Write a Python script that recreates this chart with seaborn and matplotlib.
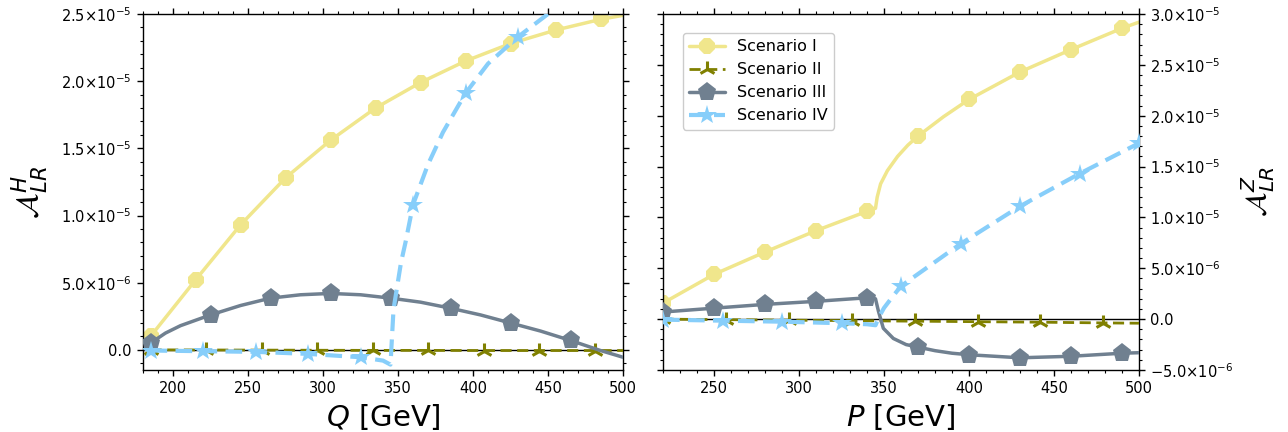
import numpy as np
import pandas as pd
import matplotlib
matplotlib.use("Agg")
import matplotlib.pyplot as plt
from matplotlib.ticker import MultipleLocator, FuncFormatter
import seaborn as sns

# ---------------- data ----------------
labels = ["Scenario I", "Scenario II", "Scenario III", "Scenario IV"]

# Left panel: A^H_LR vs Q [GeV]
Q_I = [185, 215, 245, 275, 305, 335, 365, 395, 425, 455, 485, 500]
AH_I = [1.0e-6, 5.2e-6, 9.3e-6, 1.28e-5, 1.56e-5, 1.80e-5, 1.99e-5, 2.15e-5,
        2.28e-5, 2.38e-5, 2.46e-5, 2.49e-5]
Q_I_mk = [185, 215, 245, 275, 305, 335, 365, 395, 425, 455, 485]

Q_II = [185, 222, 259, 296, 333, 370, 407, 444, 481, 500]
AH_II = [0.0, -0.01e-6, -0.02e-6, -0.03e-6, -0.04e-6, -0.04e-6, -0.05e-6,
         -0.05e-6, -0.05e-6, -0.05e-6]
Q_II_mk = [185, 222, 259, 296, 333, 370, 407, 444, 481]

Q_III = [185, 195, 205, 225, 245, 265, 285, 305, 325, 345, 365, 385, 405,
         425, 445, 465, 485, 500]
AH_III = [0.5e-6, 1.25e-6, 1.8e-6, 2.6e-6, 3.3e-6, 3.85e-6, 4.1e-6, 4.2e-6,
          4.1e-6, 3.85e-6, 3.55e-6, 3.1e-6, 2.6e-6, 2.0e-6, 1.4e-6, 0.7e-6,
          -0.05e-6, -0.55e-6]
Q_III_mk = [185, 225, 265, 305, 345, 385, 425, 465]

Q_IV = [185, 220, 255, 290, 325, 340, 345, 347, 352, 355, 360, 370, 380,
        395, 410, 430, 450, 465]
AH_IV = [-0.05e-6, -0.1e-6, -0.15e-6, -0.3e-6, -0.55e-6, -0.8e-6, -1.1e-6,
         3.0e-6, 6.5e-6, 8.0e-6, 1.08e-5, 1.38e-5, 1.62e-5, 1.91e-5, 2.13e-5,
         2.33e-5, 2.5e-5, 2.62e-5]
Q_IV_mk = [185, 220, 255, 290, 325, 360, 395, 430, 465]

# Right panel: A^Z_LR vs P [GeV]
P_I = [220, 250, 280, 310, 340, 345, 346, 348, 352, 358, 364, 370, 385, 400,
       430, 460, 490, 500]
AZ_I = [1.58e-6, 4.4e-6, 6.6e-6, 8.7e-6, 1.06e-5, 1.09e-5, 1.2e-5, 1.33e-5,
        1.46e-5, 1.6e-5, 1.71e-5, 1.80e-5, 1.99e-5, 2.16e-5, 2.43e-5, 2.65e-5,
        2.86e-5, 2.92e-5]
P_I_mk = [220, 250, 280, 310, 340, 370, 400, 430, 460, 490]

P_II = [220, 257, 294, 331, 368, 405, 442, 479, 500]
AZ_II = [0.0, -0.05e-6, -0.1e-6, -0.15e-6, -0.2e-6, -0.25e-6, -0.3e-6,
         -0.37e-6, -0.4e-6]
P_II_mk = [220, 257, 294, 331, 368, 405, 442, 479]

P_III = [220, 250, 280, 310, 340, 345, 346.7, 349.6, 355.5, 363, 370, 380,
         390, 400, 430, 460, 490, 500]
AZ_III = [0.7e-6, 1.08e-6, 1.45e-6, 1.75e-6, 2.1e-6, 2.0e-6, 0.8e-6, -0.9e-6,
          -1.9e-6, -2.5e-6, -2.75e-6, -3.1e-6, -3.35e-6, -3.5e-6, -3.8e-6,
          -3.65e-6, -3.35e-6, -3.3e-6]
P_III_mk = [220, 250, 280, 310, 340, 370, 400, 430, 460, 490]

P_IV = [220, 255, 290, 325, 340, 345, 347, 350, 355, 360, 395, 430, 465, 500]
AZ_IV = [-0.05e-6, -0.15e-6, -0.25e-6, -0.4e-6, -0.5e-6, -0.6e-6, 0.2e-6,
         1.1e-6, 2.2e-6, 3.25e-6, 7.4e-6, 1.11e-5, 1.43e-5, 1.73e-5]
P_IV_mk = [220, 255, 290, 325, 360, 395, 430, 465, 500]

# ---------------- styles ----------------
colors = ["#F0E68C", "#808000", "#708090", "#87CEFA"]
markers = ["8", "2", "p", "*"]
msizes = [13, 12, 14, 15]
lws = [2.5, 2.0, 2.5, 3.0]
dashes = [None, (4, 2), None, (4, 2)]

sns.set_style("ticks")
plt.rcParams["font.family"] = ["DejaVu Sans"]
plt.rcParams["mathtext.fontset"] = "dejavusans"
for k in ("text.color", "axes.labelcolor", "xtick.color", "ytick.color",
          "axes.edgecolor"):
    plt.rcParams[k] = "black"

fig = plt.figure(figsize=(12.88, 4.32), dpi=100)
axL = fig.add_axes([143 / 1288, 62 / 432, 480 / 1288, 356 / 432])
axR = fig.add_axes([663 / 1288, 62 / 432, 476 / 1288, 356 / 432])


def sci_fmt(v, pos):
    if abs(v) < 1e-12:
        return "0.0"
    e = int(np.floor(np.log10(abs(v)) + 1e-9))
    m = v / 10 ** e
    return r"$%.1f{\times}10^{%d}$" % (m, e)


def draw(ax, xs_list, ys_list, mk_list):
    ax.axhline(0, color="black", lw=1.0, zorder=1)
    for i, (xs, ys, mk) in enumerate(zip(xs_list, ys_list, mk_list)):
        df = pd.DataFrame({"x": xs, "y": ys})
        idx = [j for j, xv in enumerate(xs) if xv in mk]
        sns.lineplot(data=df, x="x", y="y", ax=ax, color=colors[i],
                     estimator=None, sort=False, label=labels[i],
                     marker=markers[i], markersize=msizes[i],
                     markeredgewidth=2.2 if markers[i] == "2" else 0,
                     markeredgecolor=colors[i], markevery=idx,
                     linewidth=lws[i], zorder=2 + i, clip_on=True)
        ln = ax.lines[-1]
        if dashes[i] is not None:
            ln.set_linestyle((0, dashes[i]))


draw(axL, [Q_I, Q_II, Q_III, Q_IV], [AH_I, AH_II, AH_III, AH_IV],
     [Q_I_mk, Q_II_mk, Q_III_mk, Q_IV_mk])
draw(axR, [P_I, P_II, P_III, P_IV], [AZ_I, AZ_II, AZ_III, AZ_IV],
     [P_I_mk, P_II_mk, P_III_mk, P_IV_mk])

axL.set_xlim(180, 500)
axL.set_ylim(-1.5e-6, 2.5e-5)
axR.set_xlim(220, 500)
axR.set_ylim(-5e-6, 3e-5)

for ax in (axL, axR):
    ax.xaxis.set_major_locator(MultipleLocator(50))
    ax.xaxis.set_minor_locator(MultipleLocator(10))
    ax.yaxis.set_major_locator(MultipleLocator(5e-6))
    ax.yaxis.set_minor_locator(MultipleLocator(1e-6))
    ax.yaxis.set_major_formatter(FuncFormatter(sci_fmt))
    ax.tick_params(which="both", top=True, bottom=True, left=True,
                   right=True, direction="out", labelsize=10.5,
                   colors="black")
    ax.tick_params(which="major", length=4.5, width=1.0)
    ax.tick_params(which="minor", length=2.5, width=0.8)
    for s in ax.spines.values():
        s.set_linewidth(1.0)
        s.set_color("black")

axL.tick_params(labelleft=True, labelright=False)
axR.tick_params(labelleft=False, labelright=True)

axL.set_xlabel(r"$Q$ [GeV]", fontsize=21)
axR.set_xlabel(r"$P$ [GeV]", fontsize=21)
axL.set_ylabel(r"$\mathcal{A}^H_{LR}$", fontsize=22, labelpad=8)
axR.yaxis.set_label_position("right")
axR.set_ylabel(r"$\mathcal{A}^Z_{LR}$", fontsize=21, labelpad=4)

axL.get_legend().remove()
axR.legend(loc="upper left", bbox_to_anchor=(0.042, 0.947),
           borderaxespad=0, fontsize=11.5, frameon=True, framealpha=1,
           edgecolor="#cccccc", handlelength=2.2)

fig.savefig("out.png", dpi=100)
